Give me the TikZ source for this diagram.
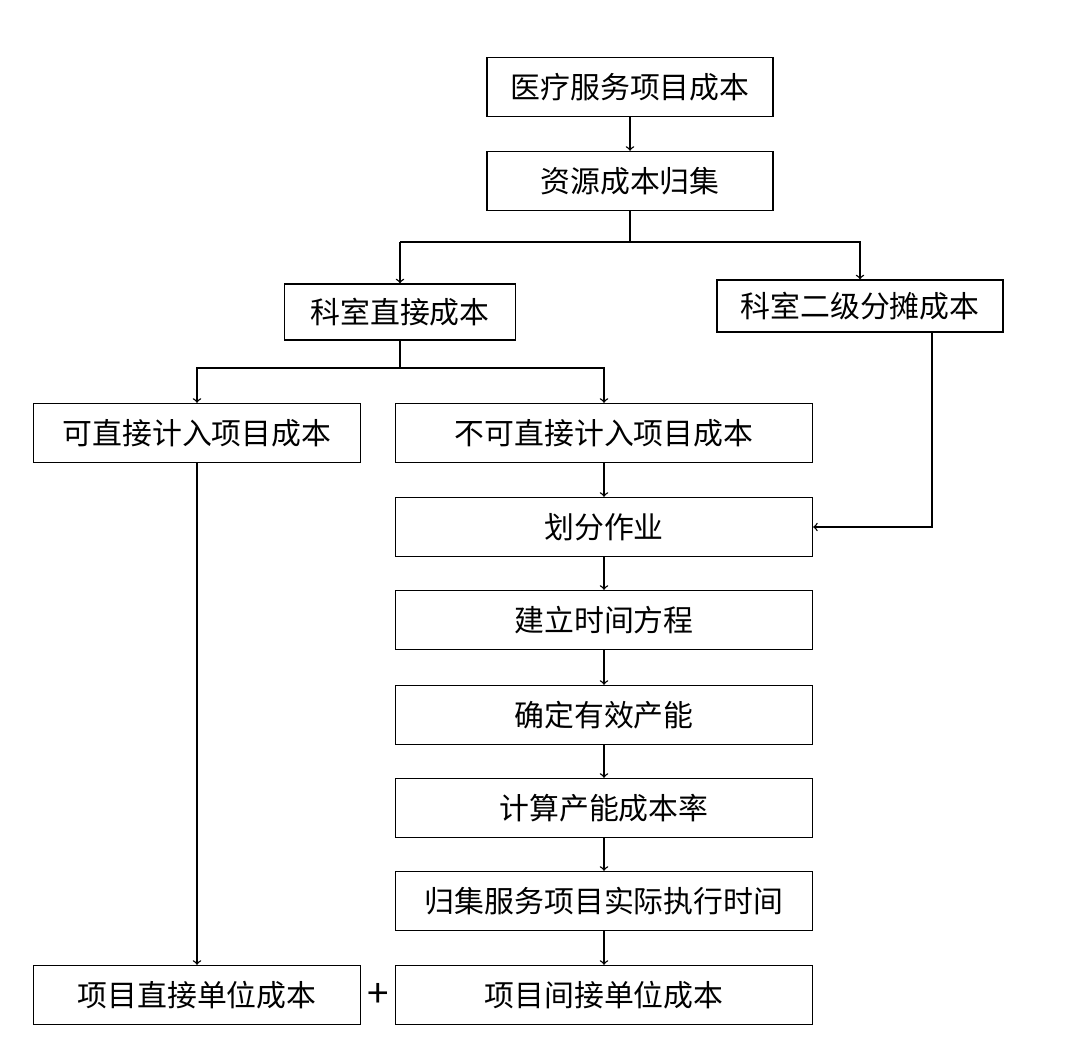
\documentclass[tikz,border=0pt]{standalone}
\usepackage{fontspec}
\setmainfont{Noto Sans CJK SC}
\begin{document}
\begin{tikzpicture}[x=0.02cm,y=-0.02cm,
    box/.style={draw,thick,inner sep=0pt,font=\fontsize{17}{20}\selectfont},
    wide/.style={box,minimum width=5.72cm,minimum height=1.18cm},
    long/.style={box,minimum width=8.34cm,minimum height=1.18cm},
    side/.style={box,minimum width=6.54cm,minimum height=1.18cm},
    every path/.style={thick}]
    \useasboundingbox (0,0) rectangle (1073,1060);

    \node[wide] (cost) at (630,87) {医疗服务项目成本};
    \node[wide] (gather) at (630,181) {资源成本归集};
    \node[box,minimum width=4.62cm,minimum height=1.12cm] (direct) at (400,312) {科室直接成本};
    \node[wide,minimum height=1.04cm] (second) at (860,306) {科室二级分摊成本};
    \node[side] (canin) at (197,433) {可直接计入项目成本};
    \node[long] (cannot) at (604,433) {不可直接计入项目成本};
    \node[long] (split) at (604,527) {划分作业};
    \node[long] (time) at (604,620) {建立时间方程};
    \node[long] (cap) at (604,715) {确定有效产能};
    \node[long] (rate) at (604,808) {计算产能成本率};
    \node[long] (exec) at (604,901) {归集服务项目实际执行时间};
    \node[long] (indir) at (604,995) {项目间接单位成本};
    \node[side] (dir) at (197,995) {项目直接单位成本};
    \node[font=\fontsize{22}{24}\selectfont] (plus) at (378,995) {+};

    \coordinate (g1) at (630,242);
    \coordinate (g2) at (400,242);
    \coordinate (g3) at (860,242);
    \coordinate (d1) at (400,368);
    \coordinate (d2) at (197,368);
    \coordinate (d3) at (604,368);
    \coordinate (s1) at (932,527);

    \draw[->] (cost) -- (gather);
    \draw (gather) -- (g1);
    \draw[->] (g2) -- (g3 -| g2) -- (direct);
    \draw[->] (g2) -- (g3) -- (second);
    \draw (direct) -- (d1);
    \draw[->] (d2) -- (d3) -- (cannot);
    \draw[->] (d1) -- (d2) -- (canin);
    \draw[->] (second.south -| s1) -- (s1) -- (split.east);
    \draw[->] (canin) -- (dir);
    \draw[->] (cannot) -- (split);
    \draw[->] (split) -- (time);
    \draw[->] (time) -- (cap);
    \draw[->] (cap) -- (rate);
    \draw[->] (rate) -- (exec);
    \draw[->] (exec) -- (indir);
\end{tikzpicture}
\end{document}
